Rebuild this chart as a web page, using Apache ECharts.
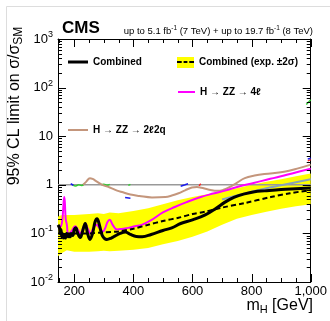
<!DOCTYPE html>
<html><head><meta charset="utf-8">
<script src="https://cdn.jsdelivr.net/npm/echarts@6/dist/echarts.min.js"></script>
<style>html,body{margin:0;padding:0;background:#fff}#c{width:330px;height:321px}</style>
</head><body><div id="c"></div>
<script>
// ---- data ----
const obsMass  = [145,150,152,155,158,160,163,166,170,174,178,182,186,190,195,200,205,212,220,228,237,245,253,262,270,277,285,295,310,325,337,355,373,390,410,430,460,500,530,560,600,643,680,710,740,776,810,843,900,950,1000];
const obsLimit = [0.15,0.13,0.10,0.12,0.085,0.10,0.08,0.095,0.08,0.10,0.085,0.09,0.085,0.10,0.09,0.12,0.13,0.10,0.082,0.11,0.16,0.10,0.075,0.10,0.17,0.20,0.15,0.09,0.075,0.08,0.088,0.10,0.107,0.095,0.086,0.085,0.095,0.115,0.13,0.16,0.19,0.24,0.33,0.44,0.55,0.65,0.72,0.75,0.80,0.83,0.86];
const expMass  = [145,200,250,300,350,400,450,500,553,600,643,700,776,865,930,1000];
const expLimit = [0.10,0.10,0.10,0.105,0.11,0.125,0.15,0.18,0.21,0.25,0.28,0.34,0.42,0.56,0.67,0.78];
const bandMass = [145,150,160,175,200,250,280,300,320,350,400,450,500,550,600,650,700,750,800,850,900,950,1000];
const bandUp   = [0.22,0.23,0.24,0.24,0.24,0.25,0.26,0.25,0.27,0.26,0.29,0.33,0.40,0.48,0.56,0.64,0.74,0.85,1.0,1.15,1.3,1.5,1.7];
const bandLo   = [0.034,0.036,0.040,0.045,0.042,0.042,0.043,0.044,0.043,0.044,0.046,0.05,0.06,0.07,0.085,0.11,0.15,0.2,0.24,0.28,0.32,0.36,0.40];
const m4lMass  = [145,155,160,163,166,168,171,175,180,190,203,212,220,230,237,247,255,265,275,285,297,305,312,320,330,345,365,383,405,428,462,500,540,580,628,670,710,760,810,863,910,943,1000];
const m4lLimit = [0.13,0.14,0.20,0.35,0.56,0.45,0.20,0.15,0.095,0.11,0.14,0.12,0.10,0.13,0.16,0.12,0.10,0.13,0.15,0.13,0.11,0.13,0.17,0.19,0.15,0.12,0.125,0.13,0.14,0.15,0.19,0.27,0.35,0.44,0.56,0.66,0.76,0.93,1.1,1.33,1.55,1.75,2.15];
const m2qMass  = [230,240,253,262,275,295,320,345,365,390,420,463,508,530,553,575,598,615,630,653,687,705,720,750,777,810,843,910,960,1000];
const m2qLimit = [1.0,1.15,1.37,1.32,1.18,1.0,0.88,0.76,0.70,0.63,0.59,0.55,0.56,0.60,0.67,0.77,0.88,0.90,0.87,0.80,0.75,0.79,0.86,1.1,1.37,1.55,1.67,1.85,2.2,2.6];
const otherMass  = [700,750,800,850,900,950,1000];
const otherLimit = [0.50,0.60,0.72,0.85,0.98,1.13,1.3];
const refMass = [145,1000];
const refLevel = [1,1];
// short fragments of other channels
const fragments = [
  {c:'#33cc33', m:[195,205,215,225,232], v:[1.0,0.95,1.0,0.97,1.02]},
  {c:'#1a1aee', m:[188,197], v:[1.05,0.98]},
  {c:'#33cc33', m:[292,300,310,320], v:[1.0,1.03,0.98,1.02]},
  {c:'#33cc33', m:[383,390], v:[0.97,1.02]},
  {c:'#1a1aee', m:[372,390], v:[0.55,0.53]},
  {c:'#1a1aee', m:[560,575,585], v:[0.93,1.0,1.05]},
  {c:'#ff2222', m:[622,628], v:[0.95,1.05]},
  {c:'#33cc33', m:[985,1000], v:[45,56]},
  {c:'#ff2222', m:[990,1000], v:[3.1,3.3]},
  {c:'#1a1aee', m:[990,1000], v:[3.4,3.5]}
];
const xMajor = [200,400,600,800,1000];
const xMinor = [150,250,300,350,450,500,550,650,700,750,850,900,950];
const yMajor = [0.01,0.1,1,10,100,1000];
const yMinor = [];
[0.01,0.1,1,10,100].forEach(d=>{for(let k=2;k<=9;k++) yMinor.push(+(d*k).toPrecision(3));});

const FONT = 'Liberation Sans, Arial, Helvetica, sans-serif';
const pairs = (a,b)=>a.map((x,i)=>[x,b[i]]);

function xAx(pos, lab){
  return {type:'value', position:pos, min:145, max:1000,
    axisLine:{show:true, onZero:false, lineStyle:{color:'#000', width:1}},
    axisTick:{show:false},
    axisLabel:{show:lab, customValues:xMajor, margin:3, fontSize:13, color:'#000', fontFamily:FONT},
    splitLine:{show:false}};
}
function yAx(pos, lab){
  return {type:'log', logBase:10, position:pos, min:0.01, max:1000,
    axisLine:{show:true, onZero:false, lineStyle:{color:'#000', width:1}},
    axisTick:{show:false},
    axisLabel:{show:lab, customValues:yMajor, margin:5, color:'#000', fontFamily:FONT,
      formatter:function(v){const e=Math.round(Math.log10(v)); if(e===0) return '{b|1}'; if(e===1) return '{b|10}'; return '{b|10}{s|'+e+'}';},
      rich:{b:{fontSize:13, lineHeight:20, fontFamily:FONT, color:'#000'}, s:{fontSize:9, lineHeight:9, verticalAlign:'top', padding:[1,0,0,0], fontFamily:FONT, color:'#000'}}},
    splitLine:{show:false}};
}

const xTickData = xMajor.map(v=>[v,1,8]).concat(xMinor.map(v=>[v,1,4]));
const yTickData = yMajor.map(v=>[145,v,8]).concat(yMinor.map(v=>[145,v,4]));

const series = [
  {type:'custom', name:'band', silent:true, z:1, data: bandMass.map((m,i)=>[m,bandUp[i],bandLo[i]]),
    renderItem:function(params, api){
      if(params.dataIndex!==0) return null;
      const pts=[];
      for(let i=0;i<bandMass.length;i++) pts.push(api.coord([bandMass[i], bandUp[i]]));
      for(let i=bandMass.length-1;i>=0;i--) pts.push(api.coord([bandMass[i], bandLo[i]]));
      return {type:'polygon', shape:{points:pts}, style:{fill:'#ffff00', stroke:null}};
    }},
  {type:'line', name:'ref', data:pairs(refMass, refLevel), symbol:'none', silent:true, z:3, lineStyle:{color:'#999999', width:1.5}},
];
fragments.forEach(f=>series.push({type:'line', data:pairs(f.m,f.v), symbol:'none', silent:true, z:3, smooth:true, lineStyle:{color:f.c, width:1.5}}));
series.push(
  {type:'line', name:'other', data:pairs(otherMass, otherLimit), symbol:'none', z:4, smooth:true, lineStyle:{color:'#89a3ba', width:2}},
  {type:'line', name:'H \u2192 ZZ \u2192 2\u21132q', data:pairs(m2qMass, m2qLimit), symbol:'none', z:4, smooth:0.4, lineStyle:{color:'#c4967c', width:2}, itemStyle:{color:'#c4967c'}},
  {type:'line', name:'H \u2192 ZZ \u2192 4\u2113', data:pairs(m4lMass, m4lLimit), symbol:'none', z:5, smooth:0.4, lineStyle:{color:'#ff00ff', width:2}, itemStyle:{color:'#ff00ff'}},
  {type:'line', name:'Combined (exp. \u00b12\u03c3)', data:pairs(expMass, expLimit), symbol:'none', z:6, smooth:0.3, lineStyle:{color:'#000', width:2, type:[5,3]}, itemStyle:{color:'#000'}},
  {type:'line', name:'Combined', data:pairs(obsMass, obsLimit), symbol:'none', z:7, smooth:0.4, lineStyle:{color:'#000', width:3}, itemStyle:{color:'#000'}},
  {type:'custom', name:'xticks', silent:true, z:10, data:xTickData,
    renderItem:function(params, api){
      const cs=params.coordSys; const p=api.coord([api.value(0), api.value(1)]); const len=api.value(2);
      const x=Math.round(p[0])+0.5, yb=cs.y+cs.height, yt=cs.y;
      return {type:'group', children:[
        {type:'line', shape:{x1:x,y1:yb,x2:x,y2:yb-len}, style:{stroke:'#000',lineWidth:1}},
        {type:'line', shape:{x1:x,y1:yt,x2:x,y2:yt+len}, style:{stroke:'#000',lineWidth:1}}]};
    }},
  {type:'custom', name:'yticks', silent:true, z:10, data:yTickData,
    renderItem:function(params, api){
      const cs=params.coordSys; const p=api.coord([api.value(0), api.value(1)]); const len=api.value(2);
      const y=Math.round(p[1])+0.5, xl=cs.x, xr=cs.x+cs.width;
      return {type:'group', children:[
        {type:'line', shape:{x1:xl,y1:y,x2:xl+len,y2:y}, style:{stroke:'#000',lineWidth:1}},
        {type:'line', shape:{x1:xr,y1:y,x2:xr-len,y2:y}, style:{stroke:'#000',lineWidth:1}}]};
    }}
);

const legTxt = {color:'#000', fontSize:10, fontWeight:'bold', fontFamily:FONT};
function leg(name, left, top, w, h, icon){
  return {data:[{name:name, icon:icon}], left:left, top:top, padding:0, itemWidth:w, itemHeight:h, orient:'horizontal', selectedMode:false, textStyle:legTxt, z:5};
}

const chart = echarts.init(document.getElementById('c'), null, {renderer:'canvas'});
chart.setOption({
  backgroundColor:'#fff',
  animation:false,
  title:[
    {text:'CMS', left:62, top:20, padding:0, textStyle:{fontSize:17, fontWeight:'bold', color:'#000', fontFamily:FONT}},
    {text:'{a|up to 5.1 fb}{s|-1}{a| (7 TeV) + up to 19.7 fb}{s|-1}{a| (8 TeV)}', right:17, top:25, padding:0,
      textStyle:{fontWeight:'normal', rich:{a:{fontSize:9.5, fontWeight:'normal', lineHeight:12, fontFamily:FONT, color:'#000'}, s:{fontSize:6.5, fontWeight:'normal', lineHeight:7, verticalAlign:'top', fontFamily:FONT, color:'#000'}}}}
  ],
  grid:{left:58, right:17, top:39, bottom:39, containLabel:false},
  xAxis:[xAx('bottom', true), xAx('top', false)],
  yAxis:[yAx('left', true), yAx('right', false)],
  legend:[
    leg('Combined', 68, 57, 20, 3, 'rect'),
    leg('Combined (exp. \u00b12\u03c3)', 177, 57, 17, 2, 'path://M0,0h5v2h-5z M7,0h4v2h-4z M13,0h5v2h-5z'),
    leg('H \u2192 ZZ \u2192 4\u2113', 178, 87, 17, 2, 'rect'),
    leg('H \u2192 ZZ \u2192 2\u21132q', 68, 125, 20, 2, 'rect')
  ],
  graphic:[
    {type:'rect', shape:{x:6.5, y:6.5, width:400, height:400}, style:{fill:null, stroke:'#dddddd', lineWidth:1}, z:0, silent:true},
    {type:'rect', shape:{x:177, y:57, width:17, height:11}, style:{fill:'#ffff00'}, z:1, silent:true},
    {type:'text', x:15, y:106, rotation:Math.PI/2, silent:true,
      style:{text:'{a|95% CL limit on \u03c3/\u03c3}{b|SM}', align:'center', verticalAlign:'middle',
        rich:{a:{fontSize:16, lineHeight:19, fontFamily:FONT, fill:'#000', color:'#000'}, b:{fontSize:12, lineHeight:19, padding:[8,0,0,0], fontFamily:FONT, fill:'#000', color:'#000'}}}},
    {type:'text', x:313, y:306, silent:true,
      style:{text:'{a|m}{b|H}{a| [GeV]}', align:'right', verticalAlign:'middle',
        rich:{a:{fontSize:16, lineHeight:20, fontFamily:FONT, fill:'#000', color:'#000'}, b:{fontSize:11, lineHeight:20, padding:[8,0,0,0], fontFamily:FONT, fill:'#000', color:'#000'}}}}
  ],
  series: series.map(s=>Object.assign({xAxisIndex:0, yAxisIndex:0}, s))
});
</script></body></html>
